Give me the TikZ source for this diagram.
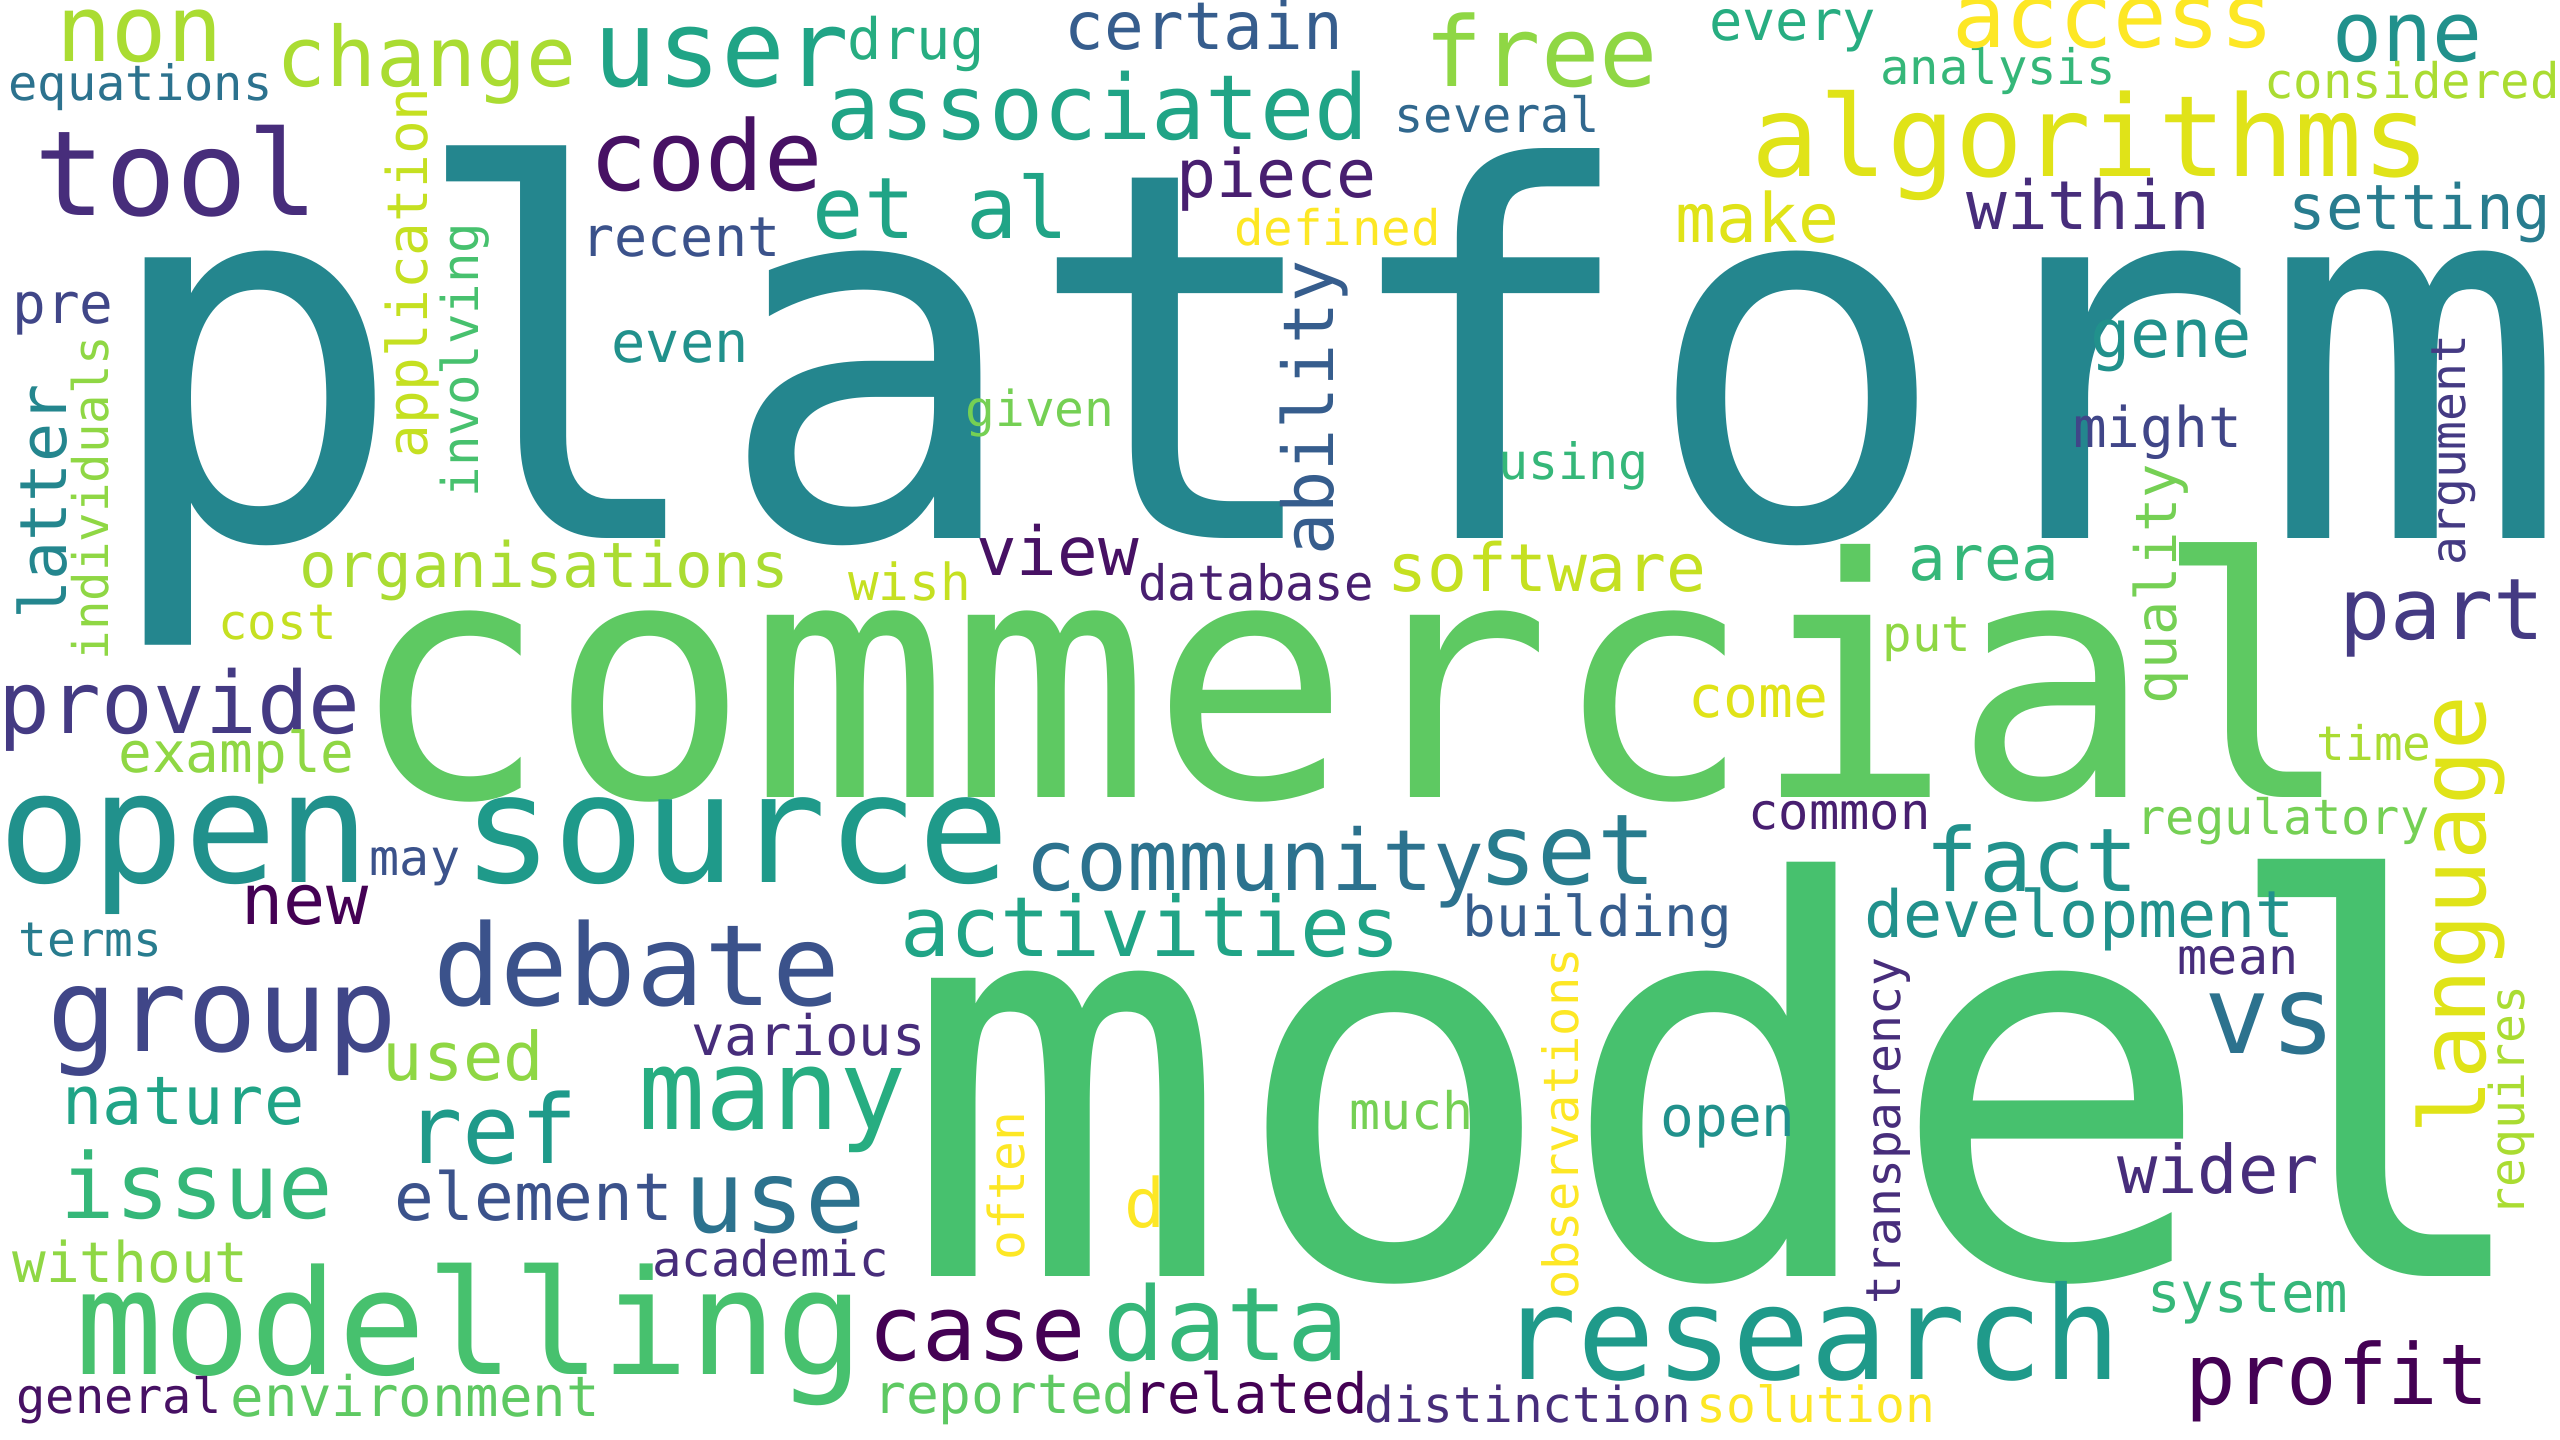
\documentclass[tikz,border=0pt]{standalone}
\usepackage{fontspec}
\newfontfamily\wcfont{DejaVu Sans Mono}

% viridis palette
\definecolor{vir00}{HTML}{440154}
\definecolor{vir01}{HTML}{471164}
\definecolor{vir02}{HTML}{481F70}
\definecolor{vir03}{HTML}{472D7B}
\definecolor{vir04}{HTML}{443A83}
\definecolor{vir05}{HTML}{404688}
\definecolor{vir06}{HTML}{3B528B}
\definecolor{vir07}{HTML}{365D8D}
\definecolor{vir08}{HTML}{31688E}
\definecolor{vir09}{HTML}{2C728E}
\definecolor{vir10}{HTML}{287C8E}
\definecolor{vir11}{HTML}{24868E}
\definecolor{vir12}{HTML}{21918C}
\definecolor{vir13}{HTML}{1F9A8A}
\definecolor{vir14}{HTML}{20A486}
\definecolor{vir15}{HTML}{27AD81}
\definecolor{vir16}{HTML}{35B779}
\definecolor{vir17}{HTML}{47C16E}
\definecolor{vir18}{HTML}{5EC962}
\definecolor{vir19}{HTML}{75D054}
\definecolor{vir20}{HTML}{8FD744}
\definecolor{vir21}{HTML}{AADC32}
\definecolor{vir22}{HTML}{C5E021}
\definecolor{vir23}{HTML}{E0E318}
\definecolor{vir24}{HTML}{FDE725}

\tikzset{wc/.style={anchor=base, inner sep=0pt, outer sep=0pt}}

% horizontal word: name, centre x, baseline y, em size (units), colour, text
\newcommand\wcH[6]{%
  \pgfmathsetmacro\wcfs{#4*0.28453}%
  \node[wc, text=#5] (#1) at (#2,#3) {\wcfont\fontsize{\wcfs pt}{\wcfs pt}\selectfont #6};}
% vertical word, reading upwards: name, baseline x, centre y, em size, colour, text
\newcommand\wcV[6]{%
  \pgfmathsetmacro\wcfs{#4*0.28453}%
  \node[wc, rotate=90, text=#5] (#1) at (#2,#3) {\wcfont\fontsize{\wcfs pt}{\wcfs pt}\selectfont #6};}

\begin{document}
\begin{tikzpicture}[x=0.01cm, y=-0.01cm]
\useasboundingbox (0,0) rectangle (2560,1440);
\fill[white] (0,0) rectangle (2560,1440);
\clip (0,0) rectangle (2560,1440);

% largest words
\wcH{platform}{1333.5}{539}{513}{vir11}{platform}
\wcH{commercial}{1351.5}{798}{333}{vir18}{commercial}
\wcH{model}{1723}{1276}{545}{vir17}{model}

% top left
\wcH{non}{139.5}{62}{92}{vir21}{non}
\wcH{equations}{140.5}{101}{48.7}{vir09}{equations}
\wcH{change}{426.5}{87}{83}{vir21}{change}
\wcH{tool}{176.5}{216}{118}{vir03}{tool}
\wcH{pre}{63}{324}{56}{vir05}{pre}
\wcV{latter}{66}{502}{65}{vir11}{latter}
\wcV{individuals}{108}{498}{49}{vir20}{individuals}
\wcV{application}{427}{273}{56}{vir22}{application}
\wcV{involving}{478}{360}{50.6}{vir17}{involving}
\wcH{organisations}{544}{588}{62.5}{vir21}{organisations}
\wcH{cost}{277.5}{640}{49}{vir22}{cost}
\wcH{provide}{179.5}{734}{86}{vir04}{provide}

% top middle
\wcH{user}{721.5}{87}{106}{vir14}{user}
\wcH{drug}{916.5}{60}{57}{vir15}{drug}
\wcH{certain}{1204}{50}{66}{vir07}{certain}
\wcH{associated}{1097.5}{140}{90}{vir14}{associated}
\wcH{code}{706}{191}{97}{vir01}{code}
\wcH{etal}{941}{239}{85}{vir14}{et al}
\wcH{recent}{681}{257}{55}{vir06}{recent}
\wcH{piece}{1276.5}{198}{66.5}{vir02}{piece}
\wcH{defined}{1337.5}{246}{49}{vir24}{defined}
\wcH{even}{680}{363}{57}{vir12}{even}
\wcH{given}{1040}{427}{49.5}{vir19}{given}
\wcH{view}{1057.5}{576}{67.5}{vir01}{view}
\wcH{wish}{909.5}{601}{51}{vir22}{wish}
\wcH{database}{1256}{601}{48.8}{vir02}{database}

% top right
\wcH{free}{1541}{87}{97}{vir20}{free}
\wcH{every}{1792.5}{41}{55.4}{vir15}{every}
\wcH{several}{1497}{133}{48.6}{vir08}{several}
\wcH{analysis}{1998}{85}{48.8}{vir16}{analysis}
\wcH{algorithms}{2091}{177}{112.6}{vir23}{algorithms}
\wcH{access}{2113}{48}{89}{vir24}{access}
\wcH{one}{2407.5}{62}{83}{vir12}{one}
\wcH{considered}{2412}{99}{49}{vir21}{considered}
\wcH{make}{1757.5}{243}{68}{vir23}{make}
\wcH{within}{2088.5}{230}{67.6}{vir03}{within}
\wcH{setting}{2420}{230}{62.4}{vir10}{setting}
\wcV{ability}{1333}{408}{70}{vir07}{ability}
\wcH{using}{1573.5}{480}{50}{vir16}{using}
\wcH{software}{1547}{592}{66.3}{vir22}{software}
\wcH{area}{1984}{581}{62.6}{vir16}{area}
\wcH{put}{1927}{652}{49}{vir20}{put}
\wcH{come}{1758.5}{718}{58}{vir23}{come}
\wcH{gene}{2171}{358}{67}{vir12}{gene}
\wcH{might}{2157.5}{448}{56}{vir05}{might}
\wcV{quality}{2176}{584}{57}{vir19}{quality}
\wcV{argument}{2465}{450}{48}{vir04}{argument}
\wcH{part}{2442}{640}{85}{vir04}{part}

% bottom left
\wcH{example}{236.5}{773}{56}{vir20}{example}
\wcH{open}{184.5}{883}{154}{vir12}{open}
\wcH{source}{736}{883}{151.5}{vir13}{source}
\wcH{may}{415}{876}{50}{vir06}{may}
\wcH{new}{305}{924}{70}{vir00}{new}
\wcH{terms}{90.5}{956}{47.7}{vir10}{terms}
\wcH{group}{222.5}{1051}{116}{vir05}{group}
\wcH{debate}{636.5}{1005}{112.6}{vir06}{debate}
\wcH{used}{463.5}{1080}{67}{vir20}{used}
\wcH{nature}{183.5}{1124}{67}{vir14}{nature}
\wcH{ref}{491.5}{1163}{95.5}{vir13}{ref}
\wcH{issue}{197}{1218}{90.5}{vir16}{issue}
\wcH{element}{534}{1220}{66}{vir06}{element}
\wcH{without}{130.5}{1282}{56}{vir20}{without}
\wcH{modelling}{470}{1374}{145.5}{vir17}{modelling}
\wcH{general}{119}{1413}{48.6}{vir01}{general}
\wcH{environment}{415.5}{1416}{55.7}{vir18}{environment}

% bottom middle
\wcH{community}{1255}{890}{84.5}{vir09}{community}
\wcH{set}{1567.5}{885}{98}{vir10}{set}
\wcH{activities}{1150.5}{956}{83}{vir14}{activities}
\wcH{various}{808.5}{1055}{55.7}{vir03}{various}
\wcH{many}{772.5}{1129}{111.5}{vir15}{many}
\wcH{use}{775}{1232}{100}{vir09}{use}
\wcH{academic}{770.5}{1276}{49}{vir03}{academic}
\wcV{often}{1024}{1186}{49.5}{vir24}{often}
\wcH{d}{1145}{1227}{68}{vir24}{d}
\wcH{case}{977}{1360}{90}{vir00}{case}
\wcH{data}{1226.5}{1360}{102}{vir16}{data}
\wcH{reported}{1004.5}{1413}{54.5}{vir18}{reported}
\wcH{related}{1251}{1413}{55.5}{vir00}{related}

% bottom right
\wcH{common}{1839.5}{830}{50.4}{vir02}{common}
\wcH{building}{1597.5}{936}{56}{vir07}{building}
\wcH{development}{2079.5}{938}{65}{vir12}{development}
\wcV{observations}{1578}{1124}{48.6}{vir24}{observations}
\wcH{much}{1411.5}{1129}{51.6}{vir19}{much}
\wcH{opensmall}{1728}{1136}{56}{vir12}{open}
\wcV{transparency}{1900}{1131}{48}{vir03}{transparency}
\wcH{research}{1810.5}{1379}{129}{vir13}{research}
\wcH{distinction}{1528}{1422}{49.4}{vir03}{distinction}
\wcH{solution}{1816}{1422}{49.6}{vir24}{solution}
\wcH{fact}{2032}{892}{88}{vir12}{fact}
\wcH{regulatory}{2283}{835}{48.6}{vir19}{regulatory}
\wcH{time}{2374}{761}{47.6}{vir21}{time}
\wcV{language}{2485}{915}{91}{vir23}{language}
\wcH{mean}{2238}{975}{50}{vir03}{mean}
\wcH{vs}{2270}{1053}{109}{vir09}{vs}
\wcV{requires}{2524}{1101}{48}{vir21}{requires}
\wcH{wider}{2218}{1193}{67}{vir03}{wider}
\wcH{system}{2247.5}{1312}{55.6}{vir16}{system}
\wcH{profit}{2337}{1404}{84}{vir00}{profit}
\end{tikzpicture}
\end{document}
